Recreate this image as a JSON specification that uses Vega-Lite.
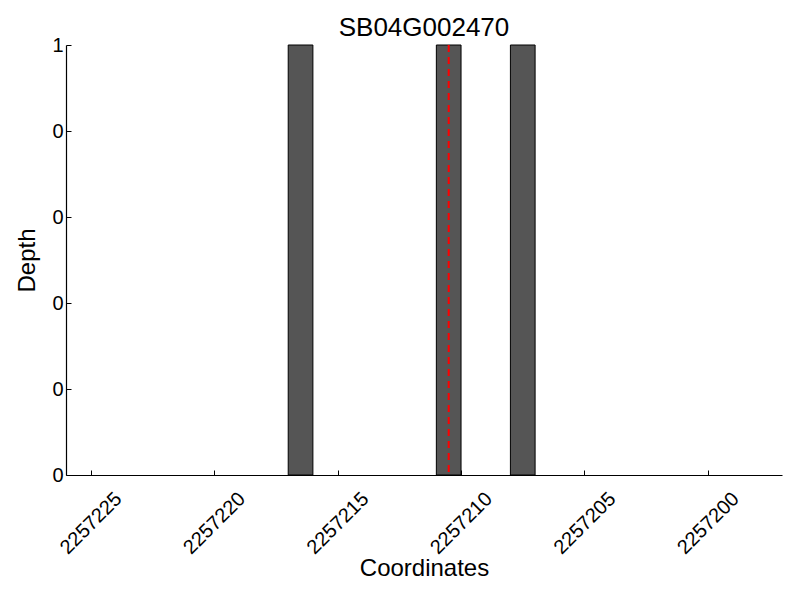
{
  "$schema": "https://vega.github.io/schema/vega-lite/v6.json",
  "width": 716,
  "height": 430,
  "autosize": "none",
  "padding": {"left": 66, "top": 45, "right": 18, "bottom": 125},
  "background": "white",
  "title": {"text": "SB04G002470", "fontSize": 26, "font": "Liberation Sans", "fontWeight": "normal", "color": "black", "anchor": "middle", "offset": -6},
  "config": {
    "view": {"stroke": null},
    "font": "Liberation Sans",
    "axis": {"grid": false, "domainColor": "black", "domainWidth": 1.2, "tickColor": "black", "tickSize": -5, "tickWidth": 1, "labelColor": "black", "titleColor": "black", "labelFont": "Liberation Sans", "titleFont": "Liberation Sans", "titleFontWeight": "normal", "labelFontSize": 20, "titleFontSize": 24}
  },
  "layer": [
    {
      "data": {"values": [
        {"start": 2257217, "end": 2257216, "depth": 1},
        {"start": 2257211, "end": 2257210, "depth": 1},
        {"start": 2257208, "end": 2257207, "depth": 1}
      ]},
      "mark": {"type": "rect", "fill": "#555555", "stroke": "black", "strokeWidth": 1},
      "encoding": {
        "x": {"field": "start", "type": "quantitative", "scale": {"domain": [2257226, 2257197], "nice": false, "zero": false},
          "axis": {"title": "Coordinates", "values": [2257225, 2257220, 2257215, 2257210, 2257205, 2257200], "format": "d", "labelAngle": -45, "labelAlign": "center", "labelBaseline": "middle", "labelPadding": 53, "titlePadding": -1}},
        "x2": {"field": "end"},
        "y": {"field": "depth", "type": "quantitative", "scale": {"domain": [0, 1], "nice": false},
          "axis": {"title": "Depth", "values": [0, 0.2, 0.4, 0.6, 0.8, 1], "labelExpr": "'' + floor(datum.value + 0.000001)", "labelPadding": 8, "titlePadding": 12}},
        "y2": {"datum": 0}
      }
    },
    {
      "data": {"values": [{"pos": 2257210.5}]},
      "mark": {"type": "rule", "color": "#ff0000", "strokeWidth": 2, "strokeDash": [7, 5]},
      "encoding": {
        "x": {"field": "pos", "type": "quantitative"}
      }
    }
  ]
}
